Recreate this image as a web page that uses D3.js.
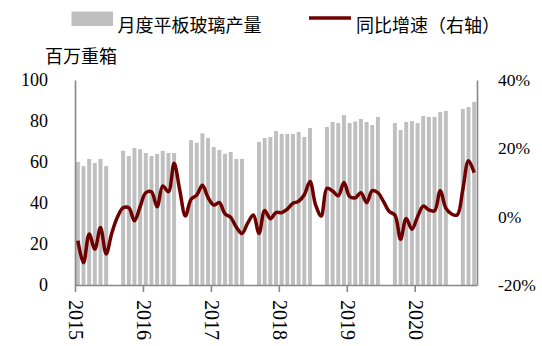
<!DOCTYPE html>
<html>
<head>
<meta charset="utf-8">
<script src="https://cdn.jsdelivr.net/npm/d3@7/dist/d3.min.js"></script>
<style>
  html, body { margin: 0; padding: 0; background: #fff; }
  svg { display: block; }
  .num { font-family: "Liberation Serif", "Times New Roman", serif; fill: #000; }
  .cjk { font-family: "Noto Sans CJK SC", "Noto Sans", sans-serif; fill: #000; }
</style>
</head>
<body>
<svg id="chart" width="542" height="346"></svg>
<script>
// Monthly flat glass output (million weight cases) and year-on-year growth.
const months = [
  "2015-07","2015-08","2015-09","2015-10","2015-11","2015-12",
  "2016-01","2016-02","2016-03","2016-04","2016-05","2016-06","2016-07","2016-08","2016-09","2016-10","2016-11","2016-12",
  "2017-01","2017-02","2017-03","2017-04","2017-05","2017-06","2017-07","2017-08","2017-09","2017-10","2017-11","2017-12",
  "2018-01","2018-02","2018-03","2018-04","2018-05","2018-06","2018-07","2018-08","2018-09","2018-10","2018-11","2018-12",
  "2019-01","2019-02","2019-03","2019-04","2019-05","2019-06","2019-07","2019-08","2019-09","2019-10","2019-11","2019-12",
  "2020-01","2020-02","2020-03","2020-04","2020-05","2020-06","2020-07","2020-08","2020-09","2020-10","2020-11","2020-12",
  "2021-01","2021-02","2021-03","2021-04","2021-05"
];

// Output; January and February are not published separately.
const output = [
  60.0, 58.0, 61.5, 59.5, 61.5, 58.0,
  null, null, 65.5, 62.9, 66.8, 66.3, 64.4, 62.9, 63.9, 65.4, 64.4, 64.4,
  null, null, 70.7, 69.4, 74.0, 71.7, 67.3, 65.9, 64.0, 64.9, 61.5, 61.5,
  null, null, 69.8, 71.7, 72.2, 75.1, 73.7, 73.7, 73.7, 74.6, 72.2, 76.6,
  null, null, 77.1, 79.5, 79.0, 82.9, 79.0, 79.8, 81.0, 79.5, 78.0, 82.0,
  null, null, 79.0, 75.6, 79.5, 80.0, 79.0, 82.4, 82.0, 82.0, 84.4, 84.9,
  null, null, 85.9, 86.8, 89.3
];

// Year-on-year growth, %
const growth = [
  -7.0, -13.5, -5.1, -9.5, -3.2, -10.9,
  -4.8, -0.1, 2.6, 2.6, -1.2, 2.9, 7.0, 7.3, 2.9, 9.0, 7.3, 15.6,
  7.8, 0.2, 5.1, 6.3, 9.2, 5.6, 3.4, 4.1, 0.8, -0.2, -3.1, -4.9,
  -1.9, 0.5, -4.9, 1.8, -0.6, 1.2, 1.2, 2.2, 3.9, 4.5, 6.4, 10.3,
  3.4, 0.2, 8.3, 7.5, 6.1, 10.0, 5.9, 5.5, 7.0, 4.1, 7.6, 7.0,
  4.4, 1.5, 0.5, -6.6, -0.5, -3.7, 0.0, 3.1, 2.0, 1.7, 7.6, 2.5,
  0.8, 0.5, 8.0, 16.4, 12.9
];

const leftTicks = [0, 20, 40, 60, 80, 100];
const rightTicks = [-20, 0, 20, 40];
const yearLabels = ["2015", "2016", "2017", "2018", "2019", "2020"];

const legendNames = ["月度平板玻璃产量", "同比增速（右轴）"];
const unitLabel = "百万重箱";

const barColor = "#bfbfbf";
const lineColor = "#6e0000";
const axisColor = "#888888";

const svg = d3.select("#chart");
const plot = { left: 75, right: 477, top: 80, bottom: 285 };

const x = d3.scaleBand()
  .domain(months)
  .range([plot.left, plot.right])
  .paddingInner(0.3)
  .paddingOuter(0.15);

// Category boundaries, used for the year ticks.
const xEdge = d3.scaleLinear()
  .domain([0, months.length])
  .range([plot.left, plot.right]);

const yL = d3.scaleLinear().domain([0, 100]).range([plot.bottom, plot.top]);
const yR = d3.scaleLinear().domain([-20, 40]).range([plot.bottom, plot.top]);

// Bars
svg.append("g")
  .selectAll("rect")
  .data(months.map((m, i) => ({ m, v: output[i] })).filter(d => d.v != null))
  .join("rect")
  .attr("x", d => x(d.m))
  .attr("width", x.bandwidth())
  .attr("y", d => yL(d.v))
  .attr("height", d => yL(0) - yL(d.v))
  .attr("fill", barColor);

// Left axis
const gL = svg.append("g")
  .attr("transform", `translate(${plot.left},0)`)
  .call(d3.axisLeft(yL).tickValues(leftTicks).tickSize(0).tickPadding(27));
gL.select(".domain").attr("stroke", axisColor).attr("stroke-width", 1.6);
gL.selectAll("text").attr("class", "num").attr("font-size", 18).attr("fill", "#000");

// Right axis
const gR = svg.append("g")
  .attr("transform", `translate(${plot.right},0)`)
  .call(d3.axisRight(yR).tickValues(rightTicks).tickSize(0).tickPadding(21)
    .tickFormat(d => (d < 0 ? "-" + Math.abs(d) : d) + "%"));
gR.select(".domain").attr("stroke", axisColor).attr("stroke-width", 1.6);
gR.selectAll("text").attr("class", "num").attr("font-size", 17.5).attr("fill", "#000");

// Bottom axis with year ticks
const gB = svg.append("g")
  .attr("transform", `translate(0,${plot.bottom})`)
  .call(d3.axisBottom(xEdge)
    .tickValues(yearLabels.map((_, i) => i * 12))
    .tickFormat((d, i) => yearLabels[i])
    .tickSizeInner(7).tickSizeOuter(0));
gB.select(".domain").attr("stroke", axisColor).attr("stroke-width", 1.6);
gB.selectAll(".tick line").attr("stroke", axisColor).attr("stroke-width", 1.6);
gB.selectAll("text")
  .attr("class", "num")
  .attr("font-size", 20)
  .attr("fill", "#000")
  .attr("transform", "rotate(90)")
  .attr("x", 15)
  .attr("y", 0)
  .attr("dy", "0.33em")
  .attr("text-anchor", "start");

// Growth line
const line = d3.line()
  .x((d, i) => x(months[i]) + x.bandwidth() / 2)
  .y(d => yR(d))
  .curve(d3.curveCatmullRom.alpha(0.5));

svg.append("path")
  .datum(growth)
  .attr("d", line)
  .attr("fill", "none")
  .attr("stroke", lineColor)
  .attr("stroke-width", 3.5)
  .attr("stroke-linejoin", "round");

// Unit label
svg.append("text")
  .attr("class", "cjk")
  .attr("x", 45)
  .attr("y", 57)
  .attr("dy", "0.35em")
  .attr("font-size", 18)
  .text(unitLabel);

// Legend
const legend = svg.append("g");
legend.append("rect")
  .attr("x", 71.5).attr("y", 11.5)
  .attr("width", 41.5).attr("height", 14.5)
  .attr("fill", barColor);
legend.append("text")
  .attr("class", "cjk")
  .attr("x", 117.5).attr("y", 26)
  .attr("dy", "0.35em")
  .attr("font-size", 18)
  .text(legendNames[0]);
legend.append("line")
  .attr("x1", 309).attr("x2", 351)
  .attr("y1", 18).attr("y2", 18)
  .attr("stroke", lineColor)
  .attr("stroke-width", 3.5);
legend.append("text")
  .attr("class", "cjk")
  .attr("x", 356).attr("y", 26)
  .attr("dy", "0.35em")
  .attr("font-size", 18)
  .text(legendNames[1]);
</script>
</body>
</html>
